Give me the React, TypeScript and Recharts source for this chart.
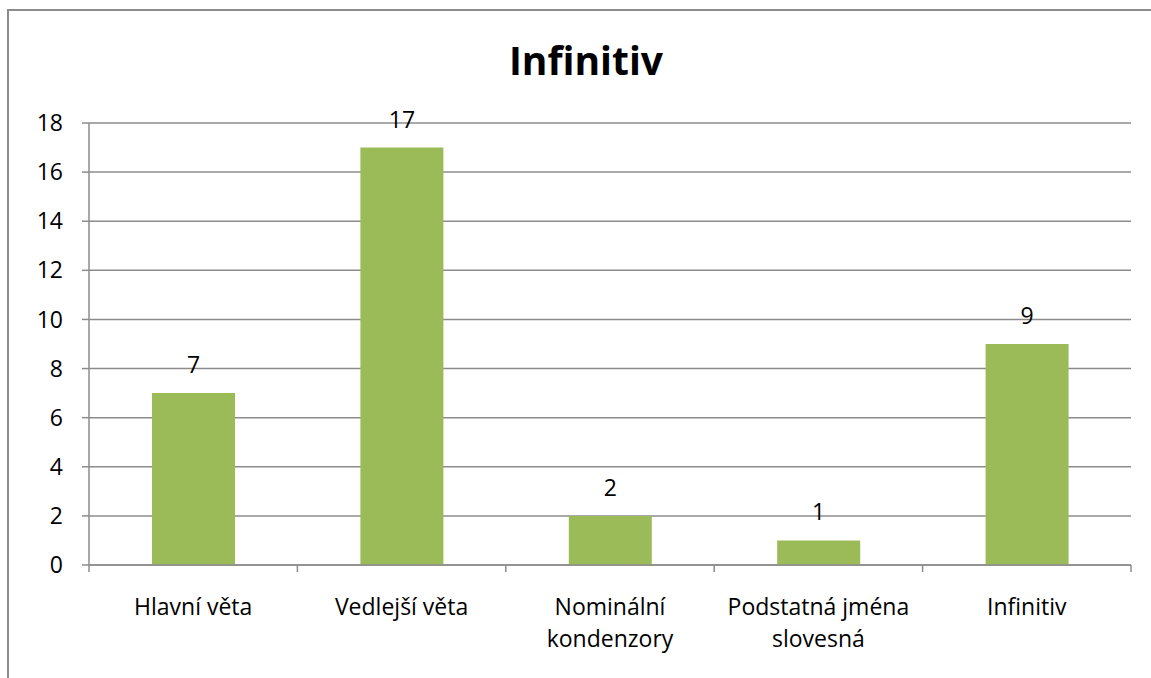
import React from "react";
import { BarChart, Bar, XAxis, YAxis, CartesianGrid, LabelList } from "recharts";

const categories = ["Hlavní věta", "Vedlejší věta", "Nominální\nkondenzory", "Podstatná jména\nslovesná", "Infinitiv"];
const values = [7, 17, 2, 1, 9];
const yTicks = [0, 2, 4, 6, 8, 10, 12, 14, 16, 18];
const title = "Infinitiv";

const data = categories.map((c, i) => ({ name: c, value: values[i] }));

const FONT = "'Open Sans', sans-serif";
const GRID = "#8c8c8c";

const CatTick = (props: any) => {
  const { x, y, payload, index, width, visibleTicksCount } = props;
  const lines = String(payload.value).split("\n");
  const n = visibleTicksCount || categories.length;
  const band = (width || 1042) / n;
  const axisY = y - 8;
  const left = x - band / 2;
  const right = x + band / 2;
  return (
    <g>
      <line x1={left} x2={left} y1={axisY} y2={axisY + 7} stroke={GRID} strokeWidth={1.5} />
      {index === n - 1 && <line x1={right} x2={right} y1={axisY} y2={axisY + 7} stroke={GRID} strokeWidth={1.5} />}
      {lines.map((l: string, i: number) => (
        <text key={i} x={x} y={y + 42 + i * 32} textAnchor="middle" fontSize={23} fill="#000" fontFamily={FONT}>
          {l}
        </text>
      ))}
    </g>
  );
};

export default function App() {
  return (
    <div style={{ position: "absolute", left: 0, top: 0, width: 1151, height: 678, background: "#fff" }}>
      <div style={{ position: "absolute", left: 7, top: 9, width: 1144, height: 669, borderLeft: `2px solid ${GRID}`, borderTop: `2px solid ${GRID}` }} />
      <div style={{ position: "absolute", left: 0, top: 0 }}>
        <BarChart width={1151} height={678} data={data} margin={{ top: 123, right: 20, bottom: 0, left: 29 }}>
          <text x={586} y={75} textAnchor="middle" fontSize={39} fontWeight="bold" fontFamily={FONT} fill="#000">
            {title}
          </text>
          <CartesianGrid vertical={false} stroke={GRID} strokeWidth={1.5} />
          <XAxis
            dataKey="name"
            height={113}
            tickSize={6}
            tickMargin={2}
            tickLine={false}
            axisLine={{ stroke: GRID, strokeWidth: 1.5 }}
            tick={<CatTick />}
            interval={0}
          />
          <YAxis
            width={60}
            domain={[0, 18]}
            ticks={yTicks}
            tickSize={7}
            tickMargin={19}
            interval={0}
            axisLine={{ stroke: GRID, strokeWidth: 1.5 }}
            tickLine={{ stroke: GRID, strokeWidth: 1.5 }}
            tick={{ fontSize: 23, fill: "#000", fontFamily: FONT }}
          />
          <Bar dataKey="value" fill="#9BBB59" isAnimationActive={false} barSize={83}>
            <LabelList dataKey="value" position="top" offset={20} fontSize={23} fill="#000" fontFamily={FONT} />
          </Bar>
        </BarChart>
      </div>
    </div>
  );
}
